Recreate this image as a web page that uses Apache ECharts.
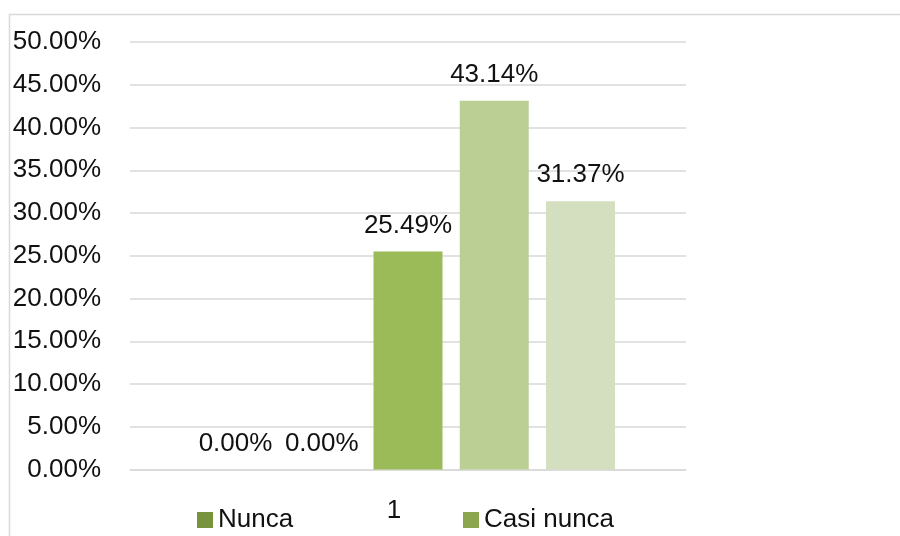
<!DOCTYPE html>
<html>
<head>
<meta charset="utf-8">
<script src="https://cdn.jsdelivr.net/npm/echarts@6/dist/echarts.min.js"></script>
<style>
  html, body { margin: 0; padding: 0; background: #fff; }
  #main { width: 900px; height: 536px; }
</style>
</head>
<body>
<div id="main"></div>
<script>
// 数据
var categories = ['1'];
var seriesNames = ['Nunca', 'Casi nunca', 'A veces', 'Casi siempre', 'Siempre'];
var seriesValues = [[0.00], [0.00], [25.49], [43.14], [31.37]];
var seriesColors = ['#77933c', '#8ba64f', '#9bbb59', '#bbcf95', '#d3dfbe'];
var yTicks = [0, 5, 10, 15, 20, 25, 30, 35, 40, 45, 50];

var font = 'Liberation Sans';

var myChart = echarts.init(document.getElementById('main'));

var series = seriesNames.map(function (name, i) {
    return {
        name: name,
        type: 'bar',
        data: seriesValues[i],
        barWidth: 69,
        barGap: '25%',
        itemStyle: { color: seriesColors[i] },
        label: {
            show: true,
            position: 'top',
            distance: 13,
            fontFamily: font,
            fontSize: 26,
            color: '#111',
            formatter: function (p) { return p.value.toFixed(2) + '%'; }
        }
    };
});

var option = {
    animation: false,
    graphic: [{
        type: 'rect',
        shape: { x: 9.5, y: 14.5, width: 1000, height: 600 },
        style: { fill: 'none', stroke: '#d9d9d9', lineWidth: 1.5 },
        silent: true
    }],
    grid: { left: 130, right: 214, top: 42, bottom: 66.5 },
    legend: [{
        data: ['Nunca'],
        left: 192, top: 502,
        itemWidth: 16, itemHeight: 16,
        icon: 'rect',
        textStyle: { fontFamily: font, fontSize: 26, color: '#111' }
    }, {
        data: ['Casi nunca'],
        left: 458, top: 502,
        itemWidth: 16, itemHeight: 16,
        icon: 'rect',
        textStyle: { fontFamily: font, fontSize: 26, color: '#111' }
    }],
    xAxis: {
        type: 'category',
        data: categories,
        axisLine: { lineStyle: { color: '#d9d9d9', width: 1.5 } },
        axisTick: { show: false },
        axisLabel: {
            margin: 28,
            padding: [0, 28, 0, 0],
            fontFamily: font, fontSize: 26, color: '#111'
        }
    },
    yAxis: {
        type: 'value',
        min: yTicks[0],
        max: yTicks[yTicks.length - 1],
        interval: 5,
        axisLine: { show: false },
        axisTick: { show: false },
        splitLine: { lineStyle: { color: '#d9d9d9', width: 1.5 } },
        axisLabel: {
            margin: 29,
            fontFamily: font, fontSize: 26, color: '#111',
            formatter: function (v) { return v.toFixed(2) + '%'; }
        }
    },
    series: series
};

myChart.setOption(option);
</script>
</body>
</html>
